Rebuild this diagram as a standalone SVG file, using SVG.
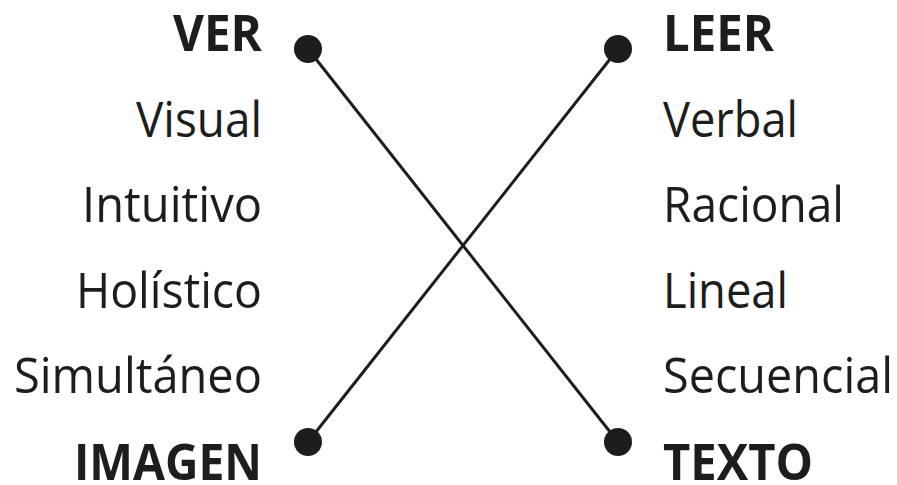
<svg xmlns="http://www.w3.org/2000/svg" width="897" height="485" viewBox="0 0 897 485">
<style>
text{font-family:"Open Sans","Noto Sans",sans-serif;font-size:50px;fill:#1d1d1b}
.b{font-weight:700}
.l{text-anchor:end}
.r{text-anchor:start}
.dot{fill:#1d1d1b}
.ln{stroke:#1d1d1b;stroke-width:3;fill:none}
</style>
<rect width="897" height="485" fill="#fff"/>
<g id="connectors">
<line class="ln" x1="308" y1="49" x2="618" y2="442"/>
<line class="ln" x1="618" y1="49" x2="308" y2="442"/>
</g>
<g id="dot-ver"><circle class="dot" cx="308" cy="49" r="14"/></g>
<g id="dot-leer"><circle class="dot" cx="618" cy="49" r="14"/></g>
<g id="dot-imagen"><circle class="dot" cx="308" cy="442" r="14"/></g>
<g id="dot-texto"><circle class="dot" cx="618" cy="442" r="14"/></g>
<g id="left">
<text id="ver" class="l b" x="262" y="51" textLength="89" lengthAdjust="spacingAndGlyphs">VER</text>
<text class="l" x="262" y="136.5" textLength="126" lengthAdjust="spacingAndGlyphs">Visual</text>
<text class="l" x="262" y="222" textLength="180" lengthAdjust="spacingAndGlyphs">Intuitivo</text>
<text class="l" x="262" y="307.5" textLength="186" lengthAdjust="spacingAndGlyphs">Holístico</text>
<text class="l" x="262" y="393" textLength="248" lengthAdjust="spacingAndGlyphs">Simultáneo</text>
<text id="imagen" class="l b" x="262" y="480" textLength="188" lengthAdjust="spacingAndGlyphs">IMAGEN</text>
</g>
<g id="right">
<text id="leer" class="r b" x="663" y="51" textLength="111" lengthAdjust="spacingAndGlyphs">LEER</text>
<text class="r" x="663" y="136.5" textLength="135" lengthAdjust="spacingAndGlyphs">Verbal</text>
<text class="r" x="663" y="222" textLength="181" lengthAdjust="spacingAndGlyphs">Racional</text>
<text class="r" x="663" y="307.5" textLength="125" lengthAdjust="spacingAndGlyphs">Lineal</text>
<text class="r" x="663" y="393" textLength="230" lengthAdjust="spacingAndGlyphs">Secuencial</text>
<text id="texto" class="r b" x="663" y="480" textLength="150" lengthAdjust="spacingAndGlyphs">TEXTO</text>
</g>
</svg>
